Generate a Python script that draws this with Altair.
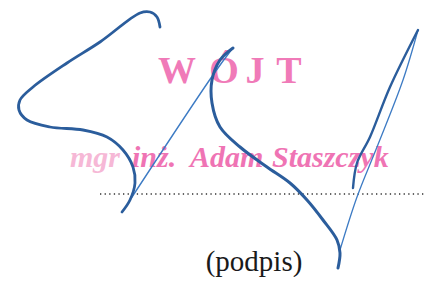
import altair as alt
import pandas as pd

# Signature strokes (pixel-like coordinates)
stroke_a_x = [160, 157, 150, 140, 100, 67, 33, 20, 19, 27, 50, 83, 107, 123, 133, 135, 130, 122]
stroke_a_y = [27, 17, 12, 13, 42, 63, 87, 100, 110, 120, 127, 130, 137, 150, 167, 183, 200, 212]

stroke_b_x = [132, 213, 232]
stroke_b_y = [197, 75, 49]

stroke_c_x = [233, 220, 212, 212, 220, 240, 267, 290, 307, 323, 337, 340, 338]
stroke_c_y = [48, 60, 80, 103, 127, 147, 167, 183, 200, 220, 240, 253, 268]

stroke_d_x = [340, 357, 377, 403, 418]
stroke_d_y = [250, 197, 147, 80, 30]

stroke_e_x = [418, 390, 370, 357, 353]
stroke_e_y = [30, 87, 137, 163, 188]

# Stamp text
title_letters = ["W", "Ó", "J", "T"]
title_x = [177, 224, 255, 289]
title_y = 83

name_words = ["mgr", "inż.", "Adam", "Staszczyk"]
name_x = [70, 132, 190, 272]
name_colors = ["#f6b8d6", "#ef74b4", "#ef74b4", "#ef74b4"]
name_y = 167

caption = "(podpis)"

def stroke_df(xs, ys):
    return pd.DataFrame({"x": xs, "y": ys, "o": list(range(len(xs)))})

xs = alt.Scale(domain=[8, 424], nice=False, zero=False)
ys = alt.Scale(domain=[277, 8], nice=False, zero=False)

def stroke(xs_, ys_, color, width):
    return alt.Chart(stroke_df(xs_, ys_)).mark_line(
        interpolate="catmull-rom", color=color, strokeWidth=width,
        strokeCap="round", strokeJoin="round", clip=False
    ).encode(
        x=alt.X("x:Q", scale=xs, axis=None),
        y=alt.Y("y:Q", scale=ys, axis=None),
        order="o:Q",
    )

title_df = pd.DataFrame({"t": title_letters, "x": title_x, "y": [title_y] * 4})
title = alt.Chart(title_df).mark_text(
    font="Liberation Serif", fontWeight="bold", fontSize=38, color="#f07ab8",
    align="center", baseline="alphabetic"
).encode(x=alt.X("x:Q", scale=xs, axis=None), y=alt.Y("y:Q", scale=ys, axis=None), text="t:N")

name_df = pd.DataFrame({"t": name_words, "x": name_x, "y": [name_y] * 4, "c": name_colors})
name = alt.Chart(name_df).mark_text(
    font="Liberation Serif", fontWeight="bold", fontStyle="italic", fontSize=30,
    align="left", baseline="alphabetic"
).encode(
    x=alt.X("x:Q", scale=xs, axis=None), y=alt.Y("y:Q", scale=ys, axis=None),
    text="t:N", color=alt.Color("c:N", scale=None)
)

dots_df = pd.DataFrame({"x": [100], "x2": [424], "y": [194]})
dots = alt.Chart(dots_df).mark_rule(
    color="#333333", strokeWidth=1.4, strokeDash=[1.3, 3.3]
).encode(x=alt.X("x:Q", scale=xs, axis=None), x2="x2:Q", y=alt.Y("y:Q", scale=ys, axis=None))

cap_df = pd.DataFrame({"t": [caption], "x": [254], "y": [271]})
cap = alt.Chart(cap_df).mark_text(
    font="Liberation Serif", fontSize=29, color="#1a1a1a",
    align="center", baseline="alphabetic"
).encode(x=alt.X("x:Q", scale=xs, axis=None), y=alt.Y("y:Q", scale=ys, axis=None), text="t:N")

thick = "#2b5d9c"
thin = "#3d7bc4"

chart = alt.layer(
    title, name, dots, cap,
    stroke(stroke_b_x, stroke_b_y, thin, 1.4),
    stroke(stroke_d_x, stroke_d_y, thin, 1.3),
    stroke(stroke_a_x, stroke_a_y, thick, 2.8),
    stroke(stroke_c_x, stroke_c_y, thick, 3.0),
    stroke(stroke_e_x, stroke_e_y, thick, 2.4),
).properties(
    width=416, height=269, padding=0, autosize=alt.AutoSizeParams(type="none"),
    background="white"
).configure_view(stroke=None)

chart.save("out.html", embed_options={"renderer": "svg", "actions": False})
